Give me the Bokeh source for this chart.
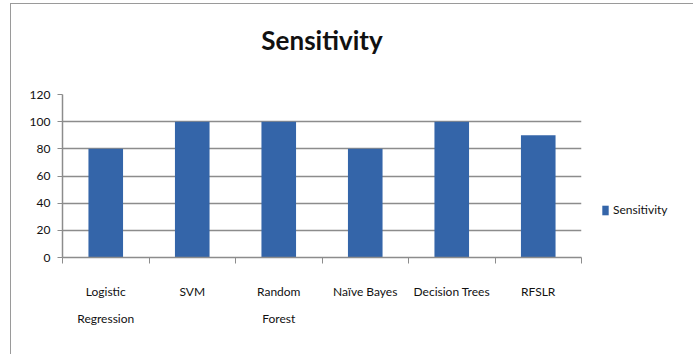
from bokeh.plotting import figure
from bokeh.models import FixedTicker, Legend, LegendItem, Range1d, Title
from bokeh.embed import file_html
from bokeh.resources import INLINE

categories = ["Logistic\nRegression", "SVM", "Random\nForest", "Naïve Bayes", "Decision Trees", "RFSLR"]
sensitivity = [80, 100, 100, 80, 100, 90]
y_ticks = [0, 20, 40, 60, 80, 100, 120]

FONT = "Lato"
BLUE = "#3465A9"
GRID = "#8C8C8C"

n = len(categories)
xs = [i + 0.5 for i in range(n)]

p = figure(frame_width=519, frame_height=163, output_backend="svg", toolbar_location=None,
           x_range=Range1d(0, n), y_range=Range1d(0, 120),
           min_border_left=51, min_border_right=103, min_border_top=90, min_border_bottom=107,
           title="Sensitivity", margin=(3, 0, 0, 10),
           styles={"border": "1px solid #9a9a9a", "box-sizing": "content-box"})

p.title.align = "center"
p.title.text_font = FONT
p.title.text_font_size = "26px"
p.title.text_font_style = "bold"
p.title.text_color = "#111111"
p.title.offset = 0
p.title.standoff = 4

# empty spacer between the title and the plot frame
spacer = Title(text=" ", text_font_size="1px", standoff=34, text_color="white")
p.add_layout(spacer, "above")

r = p.vbar(x=xs, top=sensitivity, width=0.4, fill_color=BLUE, line_color=None)

p.outline_line_color = None
p.background_fill_color = "white"
p.border_fill_color = "white"

p.xgrid.visible = False
p.ygrid.ticker = FixedTicker(ticks=y_ticks)
p.ygrid.grid_line_color = GRID
p.ygrid.grid_line_width = 1.5

yax = p.yaxis[0]
yax.ticker = FixedTicker(ticks=y_ticks)
yax.axis_line_color = GRID
yax.axis_line_width = 1.5
yax.major_tick_line_color = GRID
yax.major_tick_out = 5
yax.major_tick_in = 0
yax.minor_tick_line_color = None
yax.major_label_text_font = FONT
yax.major_label_text_font_size = "12px"
yax.major_label_text_color = "#111111"
yax.major_label_standoff = 7

xax = p.xaxis[0]
xax.ticker = FixedTicker(ticks=xs, minor_ticks=list(range(n + 1)))
xax.major_label_overrides = {x: c for x, c in zip(xs, categories)}
xax.axis_line_color = GRID
xax.axis_line_width = 1.5
xax.major_tick_line_color = None
xax.minor_tick_line_color = GRID
xax.minor_tick_out = 6
xax.minor_tick_in = 0
xax.major_label_text_font = FONT
xax.major_label_text_font_size = "12px"
xax.major_label_text_color = "#111111"
xax.major_label_standoff = 20
xax.major_label_text_line_height = 1.85

legend = Legend(items=[LegendItem(label="Sensitivity", renderers=[r])],
                location=(20, 40), glyph_width=8, glyph_height=12,
                label_text_font=FONT, label_text_font_size="12px", label_text_color="#111111",
                border_line_color=None, background_fill_alpha=0, padding=0, spacing=0,
                label_standoff=4, margin=0)
p.add_layout(legend, "right")

open("out.html", "w").write(file_html(p, INLINE))
